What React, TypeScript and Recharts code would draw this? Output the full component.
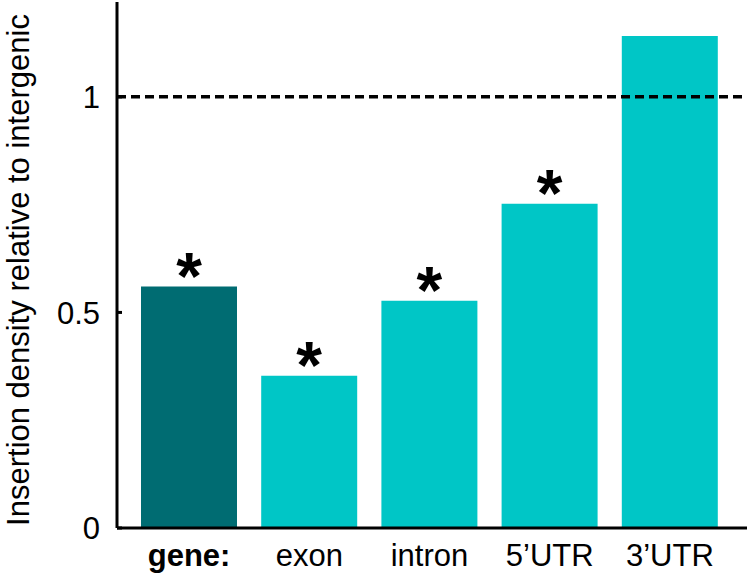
import React from "react";
import { BarChart, Bar, XAxis, YAxis, ReferenceLine, Cell, LabelList } from "recharts";

const categories = ["gene:", "exon", "intron", "5\u2019UTR", "3\u2019UTR"];
const densityValues = [0.56, 0.353, 0.527, 0.752, 1.141];
const significant = [true, true, true, true, false];
const yTicks = [0, 0.5, 1];
const yTickLabels = ["0", "0.5", "1"];
const yLabel = "Insertion density relative to intergenic";

const data = categories.map((c, i) => ({ name: c, value: densityValues[i], sig: significant[i] }));

const DARK = "#006C72";
const LIGHT = "#00C6C6";
const FONT = "'Liberation Sans', Arial, sans-serif";

const YTick = (props: any) => {
  const { x, y, payload } = props;
  const idx = yTicks.indexOf(payload.value);
  return (
    <g>
      <line x1={x + 17} x2={x + 22} y1={y} y2={y} stroke="#000" strokeWidth={3} />
      <text x={x} y={y} dy="0.36em" textAnchor="end" fontSize={31} fontFamily={FONT} fill="#000">
        {idx >= 0 ? yTickLabels[idx] : payload.value}
      </text>
    </g>
  );
};

const XTick = (props: any) => {
  const { x, y, payload, index } = props;
  return (
    <text x={x} y={y + 38} textAnchor="middle" fontSize={31} fontFamily={FONT} fill="#000" fontWeight={index === 0 ? "bold" : "normal"}>
      {payload.value}
    </text>
  );
};

const Star = (props: any) => {
  const { x, y, width, index } = props;
  if (!significant[index]) return null;
  return (
    <text x={x + width / 2} y={y + 12} textAnchor="middle" fontSize={66} fontWeight="bold" fontFamily={FONT} fill="#000">
      *
    </text>
  );
};

const YLabel = (props: any) => {
  const { viewBox } = props;
  const cy = viewBox.y + viewBox.height / 2 + 5;
  const cx = 29;
  return (
    <text x={cx} y={cy} transform={`rotate(-90, ${cx}, ${cy})`} textAnchor="middle" fontSize={31} fontFamily={FONT} fill="#000">
      {yLabel}
    </text>
  );
};

export default function App() {
  return (
    <div style={{ position: "absolute", left: 0, top: 0, width: 747, height: 577, background: "#fff" }}>
      <BarChart width={747} height={577} data={data} margin={{ top: 2, right: 0, bottom: 0, left: 0 }}>
        <XAxis
          dataKey="name"
          height={49}
          padding={{ left: 12, right: 17 }}
          axisLine={{ stroke: "#000", strokeWidth: 3 }}
          tickLine={false}
          tickSize={0}
          tickMargin={0}
          tick={<XTick />}
          interval={0}
        />
        <YAxis
          width={117}
          domain={[0, 1.22]}
          ticks={yTicks}
          axisLine={{ stroke: "#000", strokeWidth: 3 }}
          tickLine={false}
          tickSize={5}
          tickMargin={12}
          tick={<YTick />}
          label={<YLabel />}
          allowDataOverflow
        />
        <Bar dataKey="value" barSize={96} isAnimationActive={false}>
          {data.map((d, i) => (
            <Cell key={d.name} fill={i === 0 ? DARK : LIGHT} />
          ))}
          <LabelList dataKey="value" content={<Star />} />
        </Bar>
        <ReferenceLine y={1} stroke="#000" strokeWidth={3.5} strokeDasharray="9 5" />
      </BarChart>
    </div>
  );
}
